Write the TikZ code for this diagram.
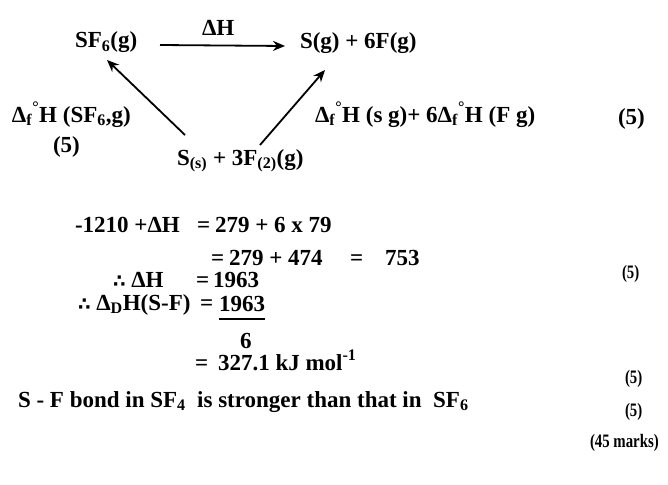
\documentclass[tikz,border=0pt]{standalone}
\usepackage{fontspec}
\setmainfont{Liberation Serif}
\newfontfamily\symf{DejaVu Sans}
\usetikzlibrary{arrows.meta,calc}
\newcommand{\thf}{{\symf\fontsize{18}{20}\selectfont ∴}}
\tikzset{
  txt/.style={anchor=base west, inner sep=0pt, outer sep=0pt, font=\fontsize{23}{26}\selectfont\bfseries},
  sm/.style={anchor=base west, inner sep=0pt, outer sep=0pt, xscale=0.78, font=\fontsize{19}{22}\selectfont\bfseries},
  arr/.style={line width=1.8pt, -{Stealth[length=12pt,width=10pt]}}
}
\begin{document}
\begin{tikzpicture}[x=1pt,y=-1pt]
\useasboundingbox (0,0) rectangle (668,484);
% cycle
\node[txt] (sf6) at (75,48) {SF\textsubscript{6}(g)};
\node[txt] (dh) at (202,36) {ΔH};
\node[txt] (sg) at (300,49) {S(g) + 6F(g)};
\node[txt] (ss) at (177,165) {S\textsubscript{(s)} + 3F\textsubscript{(2)}(g)};
\node[txt] (lf) at (12,122) {Δ\textsubscript{f}\textsuperscript{°}H (SF\textsubscript{6},g)};
\node[txt] (m1) at (53,152) {(5)};
\node[txt] (rf) at (315,122) {Δ\textsubscript{f}\textsuperscript{°}H (s g)+ 6Δ\textsubscript{f}\textsuperscript{°}H (F g)};
\node[txt] (m2) at (618,124) {(5)};
\draw[arr] ([xshift=85pt,yshift=3pt]sf6.base west) -- ([xshift=-15pt,yshift=3pt]sg.base west);
\draw[arr] ([xshift=8pt,yshift=30pt]ss.base west) -- ([xshift=32pt,yshift=-12pt]sf6.base west);
\draw[arr] ([xshift=83pt,yshift=20pt]ss.base west) -- ([xshift=25pt,yshift=-21pt]sg.base west);
% calculation
\node[txt] (c1a) at (75,232) {-1210 +ΔH};
\node[txt] (c1e) at (197,232) {=};
\node[txt] (c1b) at (215,232) {279 + 6 x 79};
\node[txt] (c2e) at (211,265) {=};
\node[txt] (c2a) at (229,265) {279 + 474};
\node[txt] (c2f) at (350,265) {=};
\node[txt] (c2b) at (385,265) {753};
\node[sm] (m3) at (622,278) {(5)};
\node[txt] (c3a) at (113,287) {\thf\ ΔH};
\node[txt] (c3e) at (196,287) {=};
\node[txt] (c3b) at (213,287) {1963};
\node[txt] (c4a) at (78,310) {\thf\ Δ\textsubscript{D}H(S-F)};
\node[txt] (c4e) at (200,310) {=};
\node[txt] (num) at (219,311) {1963};
\node[txt] (den) at (240,348) {6};
\draw[line width=1.6pt] ($(num.base west)+(0,8)$) -- ($(num.base east)+(0,8)$);
\node[txt] (c5e) at (195,370) {=};
\node[txt] (c5) at (218,370) {327.1 kJ mol\textsuperscript{-1}};
\node[sm] (m4) at (625,383) {(5)};
\node[txt] (c6) at (18,407) {S - F bond in SF\textsubscript{4}\ \ is stronger than that in\ \ SF\textsubscript{6}};
\node[sm] (m5) at (625,416) {(5)};
\node[sm] (tot) at (590,447) {(45 marks)};
\end{tikzpicture}
\end{document}
